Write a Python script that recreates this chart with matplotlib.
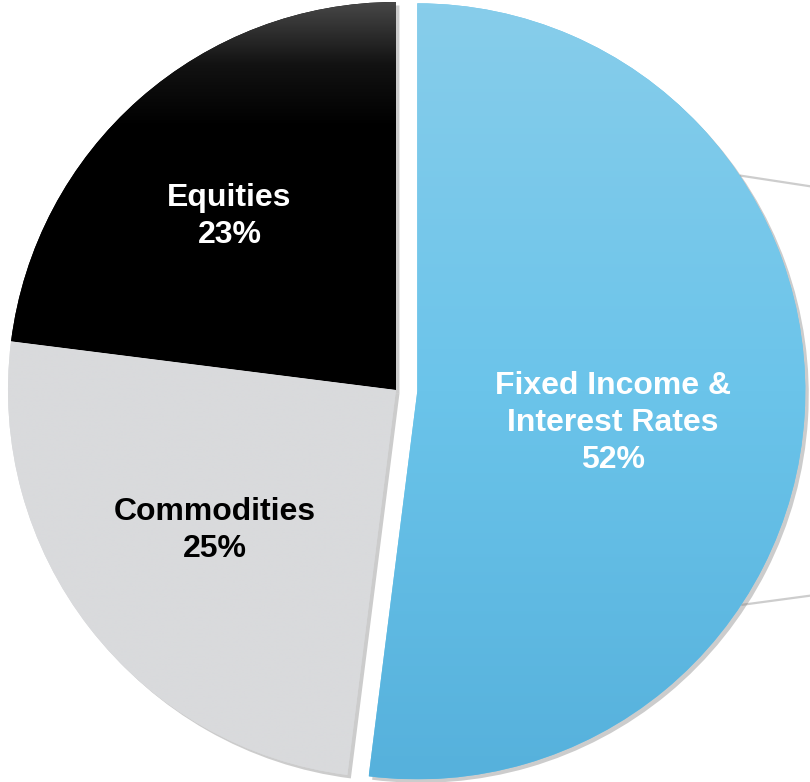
import numpy as np
import matplotlib
matplotlib.use("Agg")
import matplotlib.pyplot as plt
import matplotlib.patheffects as pe
from matplotlib.colors import LinearSegmentedColormap

plt.rcParams["font.family"] = ["Liberation Sans", "DejaVu Sans"]

# Anteile nach Anlageklasse
labels = ["Equities", "Commodities", "Fixed Income &\nInterest Rates"]
shares = [23, 25, 52]
explode = [0, 0, 0.055]
text_colors = ["white", "black", "white"]
label_dist = [0.62, 0.59, 0.51]
label_turn = [2.4, 0.0, -5.6]   # Grad relativ zur Winkelhalbierenden

# Farbverlauf je Segment (oben -> unten)
grads = [
    [(0.0, "#474747"), (0.16, "#121212"), (0.32, "#000000"), (1.0, "#000000")],
    [(0.0, "#D9DADC"), (1.0, "#D9DADC")],
    [(0.0, "#87CDEB"), (0.5, "#6BC4EA"), (1.0, "#56B1DC")],
]

# Verbindungslinien rechts (Winkel am Kreis, Endpunkt)
conn_angles = [33.8, -33.4]
conn_ends = [(1.12, 0.517), (1.12, -0.523)]

W, H = 810, 782
scale = 388.0          # Pixel pro Radius
cx, cy = 396.0, 390.0  # Mittelpunkt in Pixeln (von oben)

fig = plt.figure(figsize=(W / 100, H / 100), dpi=100)
ax = fig.add_axes([0, 0, 1, 1])

wedges, _ = ax.pie(shares, startangle=90, counterclock=True, explode=explode,
                   radius=1.0, center=(0, 0),
                   wedgeprops=dict(linewidth=0, antialiased=True))

ax.set_aspect("auto")
ax.set_xlim(-cx / scale, (W - cx) / scale)
ax.set_ylim(-(H - cy) / scale, cy / scale)
ax.axis("off")

for i, w in enumerate(wedges):
    cmap = LinearSegmentedColormap.from_list(f"g{i}", grads[i])
    w.set_facecolor(cmap(0.5))
    w.set_zorder(2)
    w.set_path_effects([pe.SimplePatchShadow(offset=(2.5, -2.5), shadow_rgbFace="#808080", alpha=0.4),
                        pe.Normal()])
    bb = w.get_path().get_extents(w.get_transform() + ax.transData.inverted())
    grad = np.linspace(0, 1, 256).reshape(-1, 1)
    im = ax.imshow(grad, cmap=cmap, aspect="auto", origin="upper",
                   extent=[bb.x0, bb.x1, bb.y0, bb.y1], zorder=3,
                   interpolation="bilinear")
    im.set_clip_path(w)

    # Beschriftung nahe der Winkelhalbierenden
    mid = np.deg2rad((w.theta1 + w.theta2) / 2 + label_turn[i])
    ox, oy = w.center
    tx = ox + label_dist[i] * np.cos(mid)
    ty = oy + label_dist[i] * np.sin(mid)
    ax.text(tx, ty, f"{labels[i]}\n{shares[i]}%", ha="center", va="center",
            color=text_colors[i], fontsize=23, fontweight="bold",
            linespacing=1.3, zorder=5)

ax.set_xlim(-cx / scale, (W - cx) / scale)
ax.set_ylim(-(H - cy) / scale, cy / scale)

fi = wedges[2]
for ang, (ex, ey) in zip(conn_angles, conn_ends):
    a = np.deg2rad(ang)
    sx = fi.center[0] + np.cos(a)
    sy = fi.center[1] + np.sin(a)
    ax.plot([sx, ex], [sy, ey], color="#CDCDCD", lw=1.6, zorder=1,
            solid_capstyle="butt")

fig.savefig("out.png", dpi=100, facecolor="white")
